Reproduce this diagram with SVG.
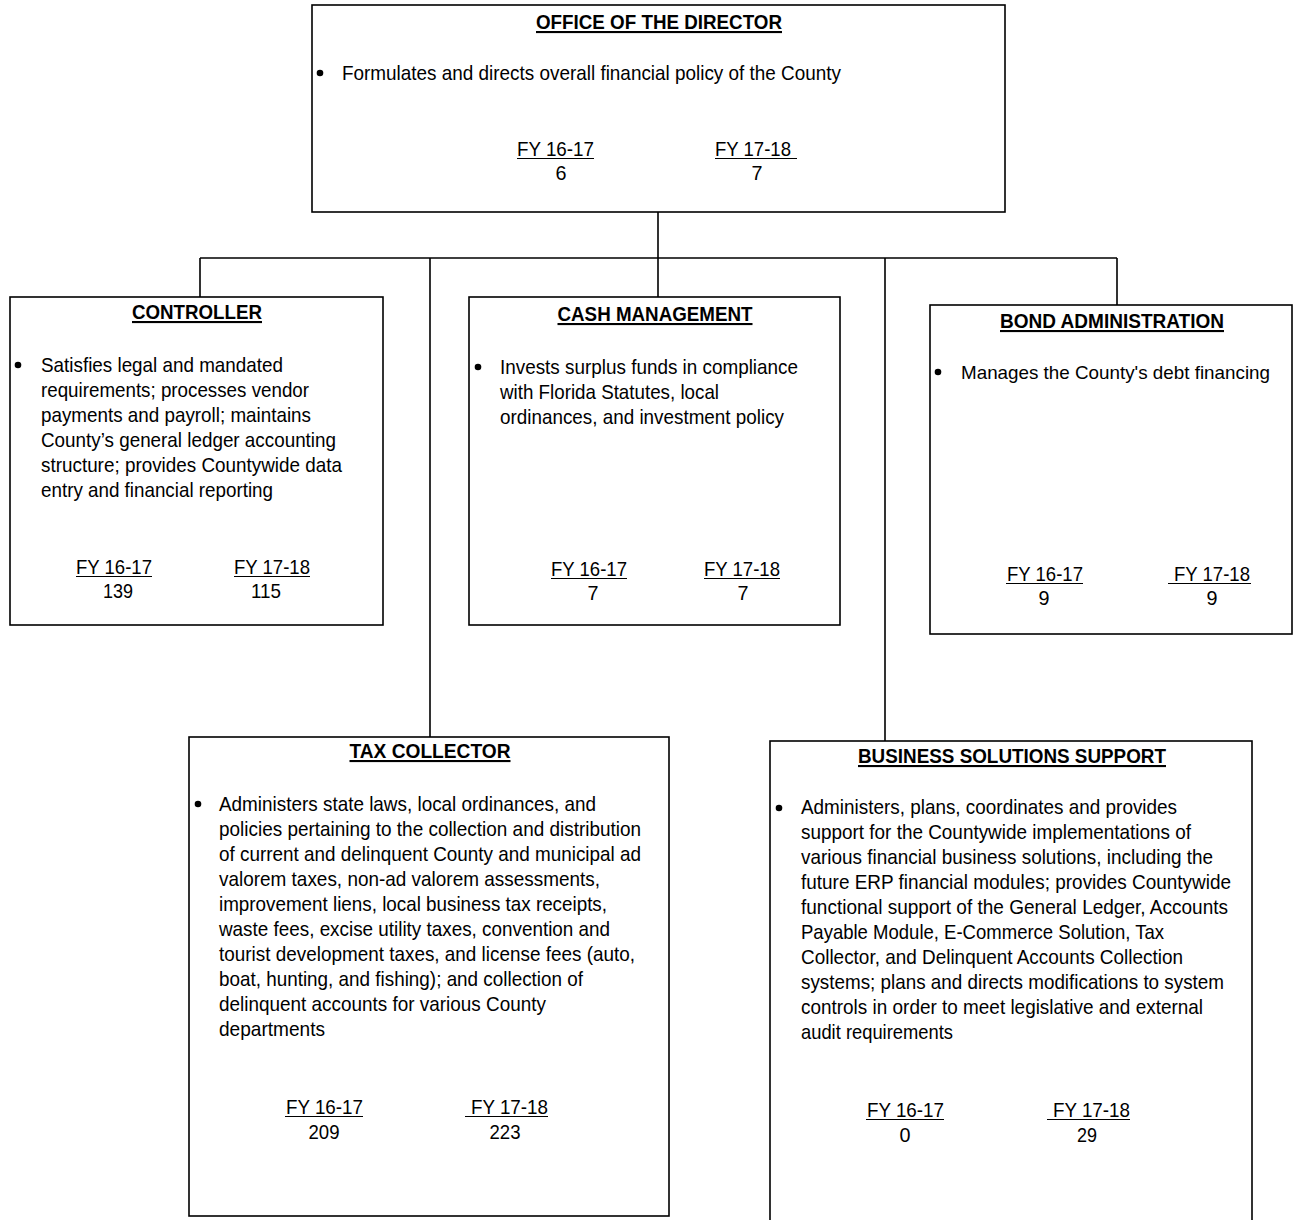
<svg xmlns="http://www.w3.org/2000/svg" width="1294" height="1220" viewBox="0 0 1294 1220">
<style>
.box{fill:#fff;stroke:#000;stroke-width:1.6}
.t{font-family:"Liberation Sans",Arial,sans-serif;font-size:21px;fill:#000}
.h{font-family:"Liberation Sans",Arial,sans-serif;font-size:21px;font-weight:bold;fill:#000;text-anchor:middle;text-decoration:underline}
.c{text-anchor:middle}
.u{stroke:#000;stroke-width:1.2}
.con{fill:none;stroke:#000;stroke-width:1.6}
</style>
<rect width="1294" height="1220" fill="#fff"/>
<g id="connectors" class="con">
<path d="M658 212V258M200 258H1117M200 258V297M430 258V737M658 258V297M885 258V741M1117 258V305"/>
</g>
<g id="director">
<rect class="box" x="312" y="5" width="693" height="207"/>
<text class="h" x="659" y="29" textLength="246" lengthAdjust="spacingAndGlyphs">OFFICE OF THE DIRECTOR</text>
<circle cx="320" cy="73" r="3.3"/>
<text class="t" x="342" y="80" textLength="499" lengthAdjust="spacingAndGlyphs">Formulates and directs overall financial policy of the County</text>
<text class="t" x="517" y="156" textLength="77" lengthAdjust="spacingAndGlyphs">FY 16-17</text>
<line class="u" x1="517" y1="158.5" x2="594" y2="158.5"/>
<text class="t c" x="561" y="180" textLength="11" lengthAdjust="spacingAndGlyphs">6</text>
<text class="t" x="715" y="156" textLength="76" lengthAdjust="spacingAndGlyphs">FY 17-18</text>
<line class="u" x1="715" y1="158.5" x2="797" y2="158.5"/>
<text class="t c" x="757" y="180" textLength="11" lengthAdjust="spacingAndGlyphs">7</text>
</g>
<g id="controller">
<rect class="box" x="10" y="297" width="373" height="328"/>
<text class="h" x="197" y="319" textLength="130" lengthAdjust="spacingAndGlyphs">CONTROLLER</text>
<circle cx="18" cy="365" r="3.3"/>
<text class="t" x="41" y="372" textLength="242" lengthAdjust="spacingAndGlyphs">Satisfies legal and mandated</text>
<text class="t" x="41" y="397" textLength="268" lengthAdjust="spacingAndGlyphs">requirements; processes vendor</text>
<text class="t" x="41" y="422" textLength="270" lengthAdjust="spacingAndGlyphs">payments and payroll; maintains</text>
<text class="t" x="41" y="447" textLength="295" lengthAdjust="spacingAndGlyphs">County’s general ledger accounting</text>
<text class="t" x="41" y="472" textLength="301" lengthAdjust="spacingAndGlyphs">structure; provides Countywide data</text>
<text class="t" x="41" y="497" textLength="232" lengthAdjust="spacingAndGlyphs">entry and financial reporting</text>
<text class="t" x="76" y="574" textLength="76" lengthAdjust="spacingAndGlyphs">FY 16-17</text>
<line class="u" x1="76" y1="576.5" x2="152" y2="576.5"/>
<text class="t c" x="118" y="598" textLength="30" lengthAdjust="spacingAndGlyphs">139</text>
<text class="t" x="234" y="574" textLength="76" lengthAdjust="spacingAndGlyphs">FY 17-18</text>
<line class="u" x1="234" y1="576.5" x2="310" y2="576.5"/>
<text class="t c" x="266" y="598" textLength="30" lengthAdjust="spacingAndGlyphs">115</text>
</g>
<g id="cash-management">
<rect class="box" x="469" y="297" width="371" height="328"/>
<text class="h" x="655" y="321" textLength="195" lengthAdjust="spacingAndGlyphs">CASH MANAGEMENT</text>
<circle cx="478" cy="367" r="3.3"/>
<text class="t" x="500" y="374" textLength="298" lengthAdjust="spacingAndGlyphs">Invests surplus funds in compliance</text>
<text class="t" x="500" y="399" textLength="219" lengthAdjust="spacingAndGlyphs">with Florida Statutes, local</text>
<text class="t" x="500" y="424" textLength="284" lengthAdjust="spacingAndGlyphs">ordinances, and investment policy</text>
<text class="t" x="551" y="576" textLength="76" lengthAdjust="spacingAndGlyphs">FY 16-17</text>
<line class="u" x1="551" y1="578.5" x2="627" y2="578.5"/>
<text class="t c" x="593" y="600" textLength="11" lengthAdjust="spacingAndGlyphs">7</text>
<text class="t" x="704" y="576" textLength="76" lengthAdjust="spacingAndGlyphs">FY 17-18</text>
<line class="u" x1="704" y1="578.5" x2="780" y2="578.5"/>
<text class="t c" x="743" y="600" textLength="11" lengthAdjust="spacingAndGlyphs">7</text>
</g>
<g id="bond-administration">
<rect class="box" x="930" y="305" width="362" height="329"/>
<text class="h" x="1112" y="328" textLength="224" lengthAdjust="spacingAndGlyphs">BOND ADMINISTRATION</text>
<circle cx="938" cy="372" r="3.3"/>
<text class="t" x="961" y="379" style="font-size:19px" textLength="309" lengthAdjust="spacingAndGlyphs">Manages the County's debt financing</text>
<text class="t" x="1007" y="581" textLength="76" lengthAdjust="spacingAndGlyphs">FY 16-17</text>
<line class="u" x1="1006" y1="583.5" x2="1083" y2="583.5"/>
<text class="t c" x="1044" y="605" textLength="11" lengthAdjust="spacingAndGlyphs">9</text>
<text class="t" x="1174" y="581" textLength="76" lengthAdjust="spacingAndGlyphs">FY 17-18</text>
<line class="u" x1="1168" y1="583.5" x2="1251" y2="583.5"/>
<text class="t c" x="1212" y="605" textLength="11" lengthAdjust="spacingAndGlyphs">9</text>
</g>
<g id="tax-collector">
<rect class="box" x="189" y="737" width="480" height="479"/>
<text class="h" x="430" y="758" textLength="161" lengthAdjust="spacingAndGlyphs">TAX COLLECTOR</text>
<circle cx="198" cy="804" r="3.3"/>
<text class="t" x="219" y="811" textLength="377" lengthAdjust="spacingAndGlyphs">Administers state laws, local ordinances, and</text>
<text class="t" x="219" y="836" textLength="422" lengthAdjust="spacingAndGlyphs">policies pertaining to the collection and distribution</text>
<text class="t" x="219" y="861" textLength="422" lengthAdjust="spacingAndGlyphs">of current and delinquent County and municipal ad</text>
<text class="t" x="219" y="886" textLength="381" lengthAdjust="spacingAndGlyphs">valorem taxes, non-ad valorem assessments,</text>
<text class="t" x="219" y="911" textLength="388" lengthAdjust="spacingAndGlyphs">improvement liens, local business tax receipts,</text>
<text class="t" x="219" y="936" textLength="391" lengthAdjust="spacingAndGlyphs">waste fees, excise utility taxes, convention and</text>
<text class="t" x="219" y="961" textLength="416" lengthAdjust="spacingAndGlyphs">tourist development taxes, and license fees (auto,</text>
<text class="t" x="219" y="986" textLength="364" lengthAdjust="spacingAndGlyphs">boat, hunting, and fishing); and collection of</text>
<text class="t" x="219" y="1011" textLength="327" lengthAdjust="spacingAndGlyphs">delinquent accounts for various County</text>
<text class="t" x="219" y="1036" textLength="106" lengthAdjust="spacingAndGlyphs">departments</text>
<text class="t" x="286" y="1114" textLength="77" lengthAdjust="spacingAndGlyphs">FY 16-17</text>
<line class="u" x1="285" y1="1116.5" x2="363" y2="1116.5"/>
<text class="t c" x="324" y="1139" textLength="31" lengthAdjust="spacingAndGlyphs">209</text>
<text class="t" x="471" y="1114" textLength="77" lengthAdjust="spacingAndGlyphs">FY 17-18</text>
<line class="u" x1="465" y1="1116.5" x2="548" y2="1116.5"/>
<text class="t c" x="505" y="1139" textLength="31" lengthAdjust="spacingAndGlyphs">223</text>
</g>
<g id="business-solutions-support">
<rect class="box" x="770" y="741" width="482" height="490"/>
<text class="h" x="1012" y="763" textLength="308" lengthAdjust="spacingAndGlyphs">BUSINESS SOLUTIONS SUPPORT</text>
<circle cx="779" cy="808" r="3.3"/>
<text class="t" x="801" y="814" textLength="376" lengthAdjust="spacingAndGlyphs">Administers, plans, coordinates and provides</text>
<text class="t" x="801" y="839" textLength="390" lengthAdjust="spacingAndGlyphs">support for the Countywide implementations of</text>
<text class="t" x="801" y="864" textLength="412" lengthAdjust="spacingAndGlyphs">various financial business solutions, including the</text>
<text class="t" x="801" y="889" textLength="430" lengthAdjust="spacingAndGlyphs">future ERP financial modules; provides Countywide</text>
<text class="t" x="801" y="914" textLength="427" lengthAdjust="spacingAndGlyphs">functional support of the General Ledger, Accounts</text>
<text class="t" x="801" y="939" textLength="363" lengthAdjust="spacingAndGlyphs">Payable Module, E-Commerce Solution, Tax</text>
<text class="t" x="801" y="964" textLength="382" lengthAdjust="spacingAndGlyphs">Collector, and Delinquent Accounts Collection</text>
<text class="t" x="801" y="989" textLength="423" lengthAdjust="spacingAndGlyphs">systems; plans and directs modifications to system</text>
<text class="t" x="801" y="1014" textLength="402" lengthAdjust="spacingAndGlyphs">controls in order to meet legislative and external</text>
<text class="t" x="801" y="1039" textLength="152" lengthAdjust="spacingAndGlyphs">audit requirements</text>
<text class="t" x="867" y="1117" textLength="77" lengthAdjust="spacingAndGlyphs">FY 16-17</text>
<line class="u" x1="866" y1="1119.5" x2="944" y2="1119.5"/>
<text class="t c" x="905" y="1142" textLength="11" lengthAdjust="spacingAndGlyphs">0</text>
<text class="t" x="1053" y="1117" textLength="77" lengthAdjust="spacingAndGlyphs">FY 17-18</text>
<line class="u" x1="1047" y1="1119.5" x2="1130" y2="1119.5"/>
<text class="t c" x="1087" y="1142" textLength="20" lengthAdjust="spacingAndGlyphs">29</text>
</g>
</svg>
